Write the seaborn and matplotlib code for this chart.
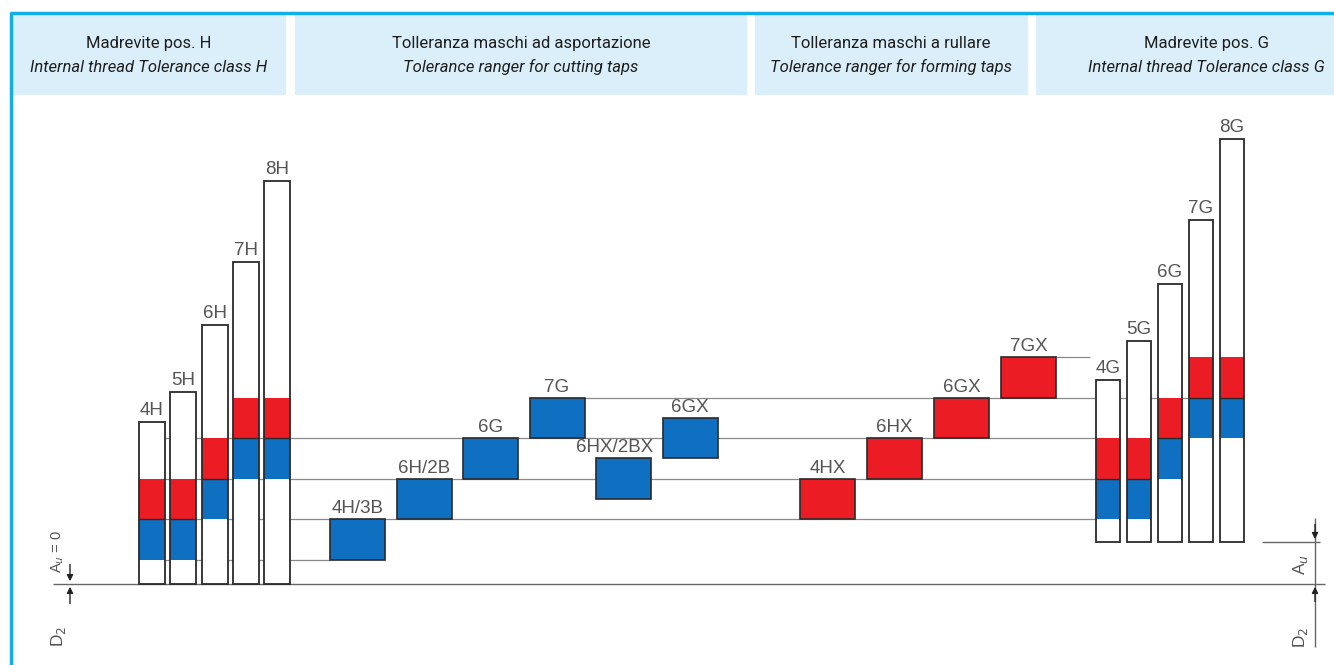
import numpy as np
import matplotlib
matplotlib.use('Agg')
import matplotlib.pyplot as plt
from matplotlib.patches import Rectangle
from matplotlib.lines import Line2D
import seaborn as sns

# tolerance fields, in units of one tolerance band above the basic size D2
h_classes = ['4H', '5H', '6H', '7H', '8H']
h_tops = [4.0, 4.74, 6.4, 7.95, 9.95]
h_blue_low = [0.6, 0.6, 1.6, 2.6, 2.6]
h_red_low = [1.6, 1.6, 2.6, 3.6, 3.6]

g_classes = ['4G', '5G', '6G', '7G', '8G']
g_base = 1.04  # fundamental deviation Au
g_tops = [5.04, 6.0, 7.41, 8.99, 10.99]
g_blue_low = [1.6, 1.6, 2.6, 3.6, 3.6]
g_red_low = [2.6, 2.6, 3.6, 4.6, 4.6]

cut_taps = ['4H/3B', '6H/2B', '6G', '7G', '6HX/2BX', '6GX']
cut_low = [0.6, 1.6, 2.6, 3.6, 2.1, 3.1]
cut_high = [1.6, 2.6, 3.6, 4.6, 3.1, 4.1]

form_taps = ['4HX', '6HX', '6GX', '7GX']
form_low = [1.6, 2.6, 3.6, 4.6]
form_high = [2.6, 3.6, 4.6, 5.6]

guide_levels = [0.6, 1.6, 2.6, 3.6, 4.6, 5.6]

headers = [
    ('Madrevite pos. H', 'Internal thread Tolerance class H'),
    ('Tolleranza maschi ad asportazione', 'Tolerance ranger for cutting taps'),
    ('Tolleranza maschi a rullare', 'Tolerance ranger for forming taps'),
    ('Madrevite pos. G', 'Internal thread Tolerance class G'),
]

# layout (pixels of the 1334x665 canvas)
W, H = 1334, 665
U = 40.5          # pixels per band
BASE_Y = 584      # pixel row of the D2 line
RED = '#ec1c24'
BLUE = '#0f6fc0'
EDGE = '#2a2a2a'
LABEL = '#555555'
GUIDE = '#8a8a8a'

sns.set_theme(style='white')
plt.rcParams['font.family'] = ['Liberation Sans', 'DejaVu Sans']

fig = plt.figure(figsize=(W / 100, H / 100), dpi=100)
ax = fig.add_axes([0, 0, 1, 1])
ax.set_xlim(0, W)
ax.set_ylim(-(H - BASE_Y) / U, BASE_Y / U)
ax.axis('off')

h_x = 152 + 31.25 * np.arange(len(h_classes))
g_x = 1108 + 31 * np.arange(len(g_classes))
cut_x = 357.5 + 66.5 * np.arange(len(cut_taps))
form_x = 827.5 + 67 * np.arange(len(form_taps))

# horizontal guide lines
guide_from = [139, 139, 139, 139, 529, 1001]
guide_to = [330, 1096, 1096, 1096, 1189, 1090]
ax.hlines(guide_levels, guide_from, guide_to, color=GUIDE, lw=0.9, zorder=1)
ax.hlines(0, 53, 1325, color='#666666', lw=1.0, zorder=1)


def field_bars(xs, base, tops, blue_low, red_low, labels, width):
    base = np.broadcast_to(base, len(xs))
    tops = np.asarray(tops)
    ax.bar(xs, tops - base, bottom=base, width=width, color='white',
           edgecolor='none', zorder=2)
    ax.bar(xs, 1.0, bottom=blue_low, width=width, color=BLUE,
           edgecolor='none', zorder=3)
    ax.bar(xs, 1.0, bottom=red_low, width=width, color=RED,
           edgecolor='none', zorder=3)
    ax.hlines(red_low, xs - width / 2, xs + width / 2, color=EDGE, lw=1.0, zorder=3.5)
    ax.bar(xs, tops - base, bottom=base, width=width, fill=False,
           edgecolor=EDGE, lw=1.3, zorder=4)
    for x, t, lab in zip(xs, tops, labels):
        ax.text(x, t + 0.08, lab, ha='center', va='bottom', fontsize=13.5,
                color=LABEL, zorder=5)


field_bars(h_x, 0.0, h_tops, h_blue_low, h_red_low, h_classes, 26)
field_bars(g_x, g_base, g_tops, g_blue_low, g_red_low, g_classes, 24)

# tap tolerance blocks
for xs, lows, highs, labs, col in [(cut_x, cut_low, cut_high, cut_taps, BLUE),
                                    (form_x, form_low, form_high, form_taps, RED)]:
    lows = np.asarray(lows)
    highs = np.asarray(highs)
    ax.bar(xs, highs - lows, bottom=lows, width=55, color=col,
           edgecolor=EDGE, lw=1.2, zorder=3)
    for x, hi, lab in zip(xs, highs, labs):
        dx = -9 if lab == '6HX/2BX' else 0
        ax.text(x + dx, hi + 0.05, lab, ha='center', va='bottom', fontsize=13.5,
                color=LABEL, zorder=5)

# dimension marks, left: Au = 0
arrow = dict(arrowstyle='-|>', color='#222222', lw=1.0, mutation_scale=9)
ax.annotate('', xy=(70, 0), xytext=(70, 0.55), arrowprops=arrow)
ax.annotate('', xy=(70, 0), xytext=(70, -0.55), arrowprops=arrow)
ax.text(58, 0.8, 'A$_u$ = 0', rotation=90, ha='center', va='center',
        fontsize=10.5, color=LABEL)
ax.text(58, -1.3, 'D$_2$', rotation=90, ha='center', va='center',
        fontsize=12.5, color=LABEL)

# dimension marks, right: Au of position G
ax.hlines(g_base, 1262, 1320, color='#666666', lw=1.0)
ax.vlines(1315, -1.56, 1.63, color='#666666', lw=1.0)
ax.annotate('', xy=(1315, g_base), xytext=(1315, g_base + 0.5), arrowprops=arrow)
ax.annotate('', xy=(1315, 0), xytext=(1315, -0.5), arrowprops=arrow)
ax.text(1300, 0.47, 'A$_u$', rotation=90, ha='center', va='center',
        fontsize=12.5, color=LABEL)
ax.text(1300, -1.31, 'D$_2$', rotation=90, ha='center', va='center',
        fontsize=12.5, color=LABEL)

# header strip
boxes = [(12, 286), (295, 747), (755, 1028), (1036, 1334)]
centers = [149, 521, 891, 1206]
for (x0, x1), cx, (l1, l2) in zip(boxes, centers, headers):
    fig.add_artist(Rectangle((x0 / W, 1 - 95 / H), (x1 - x0) / W, 80 / H,
                             transform=fig.transFigure, fc='#dbeffa', ec='none'))
    fig.text(cx / W, 1 - 48 / H, l1, ha='center', va='baseline', fontsize=12,
             color='#1e1e1e', family=['Roboto', 'DejaVu Sans'])
    fig.text(cx / W, 1 - 72 / H, l2, ha='center', va='baseline', fontsize=12,
             color='#1e1e1e', style='italic', family=['Roboto', 'DejaVu Sans'])

# cyan frame
fig.add_artist(Line2D([10 / W, 1], [1 - 12.5 / H] * 2, transform=fig.transFigure,
                      color='#12aee8', lw=2.5, solid_capstyle='butt'))
fig.add_artist(Line2D([10.5 / W] * 2, [0, 1 - 11.5 / H], transform=fig.transFigure,
                      color='#12aee8', lw=2.5, solid_capstyle='butt'))

fig.savefig('out.png', dpi=100, facecolor='white')
